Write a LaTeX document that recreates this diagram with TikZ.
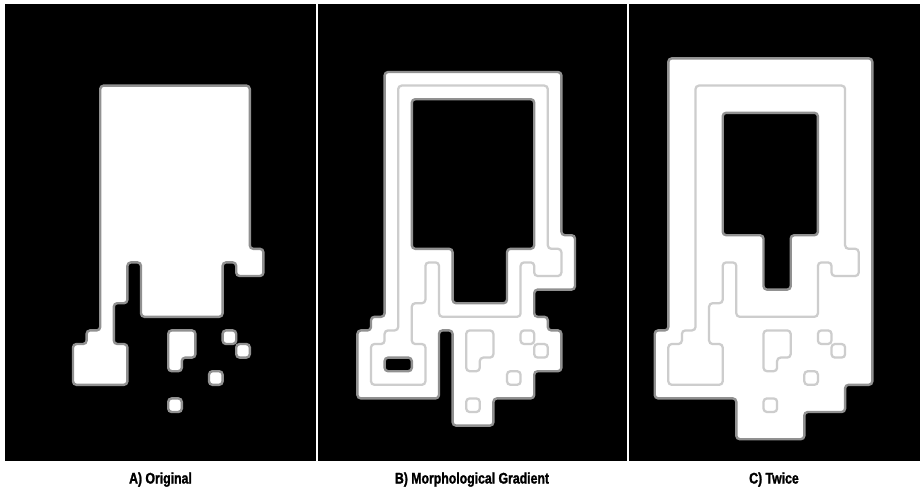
\documentclass[tikz,border=0pt]{standalone}
\usepackage{fontspec}
\newfontfamily\capfont{Liberation Sans}[FakeStretch=0.8, BoldFeatures={FakeBold=1.6}]
\definecolor{EdgeGray}{HTML}{919191}
\definecolor{OrigGray}{HTML}{CDCDCD}
\tikzset{
  panel/.style={fill=black},
  blob/.style={fill=white, draw=EdgeGray, line width=1.8pt, rounded corners=2.6pt},
  hole/.style={fill=black, draw=EdgeGray, line width=1.8pt, rounded corners=2.6pt},
  origline/.style={draw=OrigGray, line width=1.7pt, rounded corners=2.6pt},
  caption/.style={font=\capfont\bfseries\fontsize{11.5}{13}\selectfont, anchor=base, inner sep=0pt},
}
% the original binary shape, in grid cells
\newcommand{\origshape}[1]{%
  \path[#1] (7,6) -- (18,6) -- (18,18) -- (19,18) -- (19,20) -- (17,20) -- (17,19) -- (16,19)
    -- (16,23) -- (10,23) -- (10,19) -- (9,19) -- (9,22) -- (8,22) -- (8,25) -- (9,25)
    -- (9,28) -- (5,28) -- (5,25) -- (6,25) -- (6,24) -- (7,24) -- cycle;
  \path[#1] (12,24) -- (14,24) -- (14,26) -- (13,26) -- (13,27) -- (12,27) -- cycle;
  \path[#1] (16,24) rectangle (17,25);
  \path[#1] (17,25) rectangle (18,26);
  \path[#1] (15,27) rectangle (16,28);
  \path[#1] (12,29) rectangle (13,30);
}

\begin{document}
\begin{tikzpicture}[x=0.75pt, y=-0.75pt]
\useasboundingbox (0,0) rectangle (920,494);
\fill[white] (0,0) rectangle (920,494);
% ---------- panel backgrounds
\path[panel] (5,4) rectangle (316,461);
\path[panel] (317.5,4) rectangle (627,461);
\path[panel] (628.7,4) rectangle (920,461);
% ---------- A) original
\begin{scope}[shift={(5,4)}, x=10.2pt, y=-10.2pt]
  \origshape{blob}
\end{scope}
% ---------- B) gradient: dilation minus erosion
\begin{scope}[shift={(303,4)}, x=10.2pt, y=-10.2pt]
  \path[blob] (6,5) -- (19,5) -- (19,17) -- (20,17) -- (20,21) -- (17,21) -- (17,23) -- (18,23)
    -- (18,24) -- (19,24) -- (19,27) -- (17,27) -- (17,29) -- (14,29) -- (14,31) -- (11,31)
    -- (11,24) -- (10,24) -- (10,29) -- (4,29) -- (4,24) -- (5,24) -- (5,23) -- (6,23) -- cycle;
  \origshape{origline}
  \path[hole] (8,7) -- (17,7) -- (17,18) -- (15,18) -- (15,22) -- (11,22) -- (11,18) -- (8,18) -- cycle;
  \path[hole] (6,26) rectangle (8,27);
\end{scope}
% ---------- C) twice
\begin{scope}[shift={(600.3,4)}, x=10.2pt, y=-10.2pt]
  \path[blob] (5,4) -- (20,4) -- (20,28) -- (18,28) -- (18,30) -- (15,30) -- (15,32) -- (10,32)
    -- (10,29) -- (4,29) -- (4,24) -- (5,24) -- cycle;
  \origshape{origline}
  \path[hole] (9,8) -- (16,8) -- (16,17) -- (14,17) -- (14,21) -- (12,21) -- (12,17) -- (9,17) -- cycle;
\end{scope}
% ---------- captions
\node[caption] (capA) at (160.5,483.5) {A) Original};
\node[caption] (capB) at (472,483.5) {B) Morphological Gradient};
\node[caption] (capC) at (774,483.5) {C) Twice};
\end{tikzpicture}
\end{document}
